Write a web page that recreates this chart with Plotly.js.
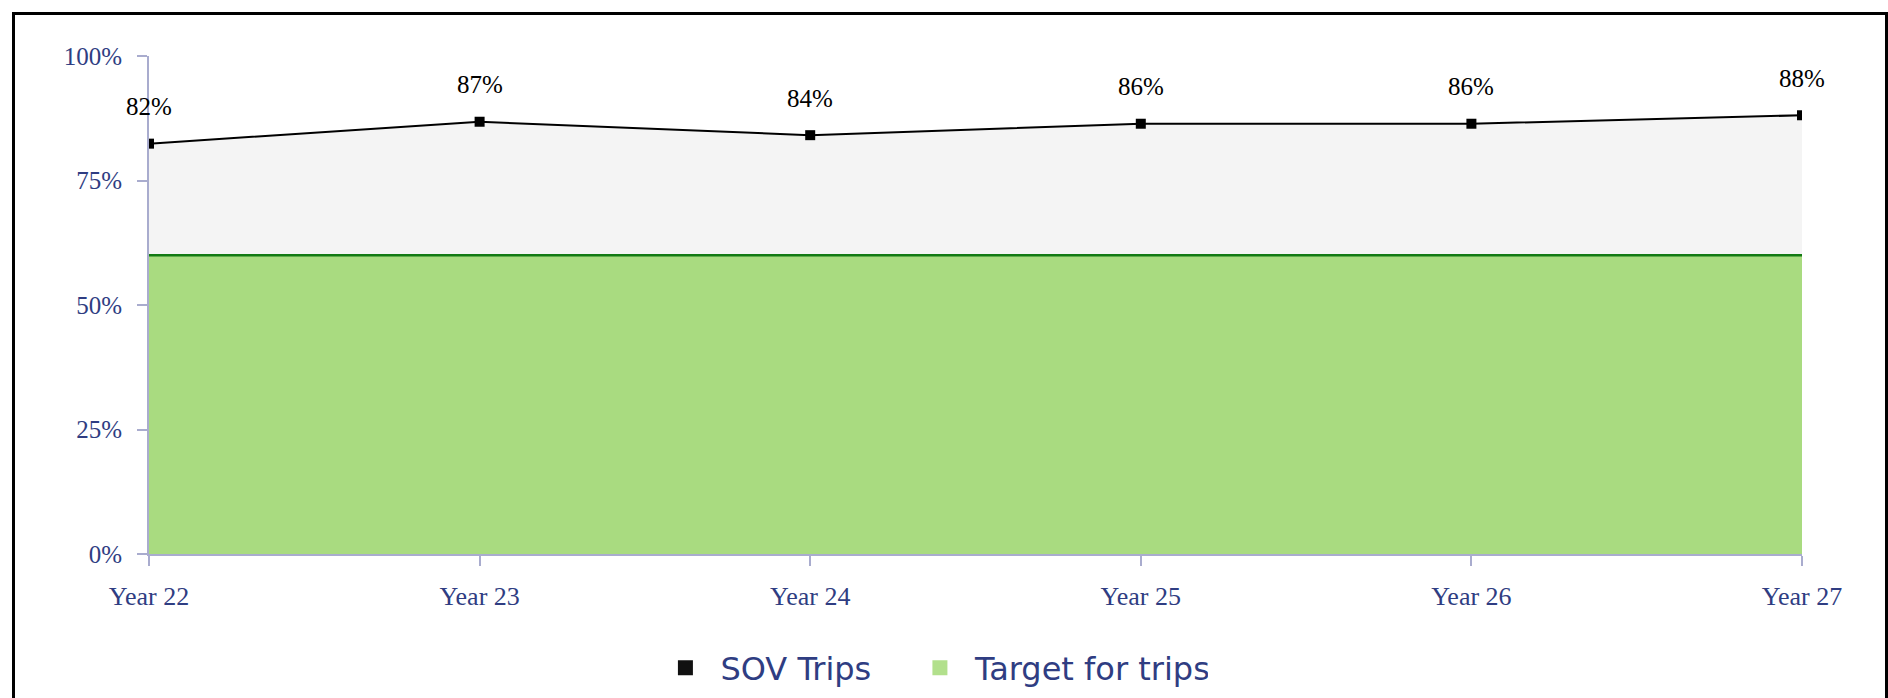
<!DOCTYPE html>
<html>
<head>
<meta charset="utf-8">
<script src="https://cdn.plot.ly/plotly-3.0.1.min.js"></script>
<style>
  html, body { margin: 0; padding: 0; background: #ffffff; overflow: hidden; }
  #wrap { position: relative; width: 1888px; height: 698px; }
  #chart { position: absolute; left: 0; top: 0; width: 1888px; height: 698px; }
  #frame { position: absolute; left: 12px; top: 12px; width: 1870px; height: 800px;
           border: 3px solid #000; pointer-events: none; }
</style>
</head>
<body>
<div id="wrap">
  <div id="chart"></div>
  <div id="frame"></div>
</div>
<script>
// ---- data ----
const years = ["Year 22", "Year 23", "Year 24", "Year 25", "Year 26", "Year 27"];
const sovTrips = [82.4, 86.8, 84.1, 86.4, 86.4, 88.1];
const sovLabels = ["82%", "87%", "84%", "86%", "86%", "88%"];
const target = [60, 60, 60, 60, 60, 60];
const yTicks = [0, 25, 50, 75, 100];
const yTickLabels = ["0%", "25%", "50%", "75%", "100%"];
const seriesNames = ["SOV Trips", "Target for trips"];

const navy = "#2f3d82";
const axisCol = "#a9acce";
const serif = "Liberation Serif, Times New Roman, serif";
const legendFont = { family: "DejaVu Sans, sans-serif", size: 32, color: navy };

const traces = [
  {
    x: years, y: sovTrips, type: "scatter", mode: "lines+markers",
    fill: "tozeroy", fillcolor: "#f4f4f4",
    line: { color: "#000000", width: 2 },
    marker: { symbol: "square", size: 10, color: "#000000" },
    showlegend: false, hoverinfo: "skip"
  },
  {
    x: years, y: target, type: "scatter", mode: "lines",
    fill: "tozeroy", fillcolor: "#a9db80",
    line: { color: "#137a13", width: 2.5 },
    showlegend: false, hoverinfo: "skip"
  },
  {
    x: [null], y: [null], type: "scatter", mode: "markers", name: seriesNames[0],
    marker: { symbol: "square", size: 15, color: "#111111" },
    showlegend: true, legend: "legend"
  },
  {
    x: [null], y: [null], type: "scatter", mode: "markers", name: seriesNames[1],
    marker: { symbol: "square", size: 15, color: "#b2e08c" },
    showlegend: true, legend: "legend2"
  }
];

const annotations = years.map((yr, i) => ({
  x: yr, y: sovTrips[i], xref: "x", yref: "y",
  text: sovLabels[i], showarrow: false,
  yanchor: "middle", xanchor: "center", yshift: 37,
  font: { family: serif, size: 25, color: "#000000" }
}));

const layout = {
  width: 1888, height: 698,
  margin: { l: 149, r: 86, t: 56, b: 144, pad: 0, autoexpand: false },
  paper_bgcolor: "rgba(0,0,0,0)",
  plot_bgcolor: "#ffffff",
  showlegend: true,
  legend: {
    orientation: "h", xref: "container", yref: "container",
    x: 0.3445, xanchor: "left", y: 0.043, yanchor: "middle",
    font: legendFont, bgcolor: "rgba(0,0,0,0)", itemwidth: 60
  },
  legend2: {
    orientation: "h", xref: "container", yref: "container",
    x: 0.4793, xanchor: "left", y: 0.043, yanchor: "middle",
    font: legendFont, bgcolor: "rgba(0,0,0,0)", itemwidth: 60, entrywidth: 228
  },
  xaxis: {
    type: "category", range: [0, 5],
    showgrid: false, zeroline: false,
    showline: true, linecolor: axisCol, linewidth: 2,
    ticks: "outside", ticklen: 10, tickwidth: 2, tickcolor: axisCol,
    tickfont: { family: serif, size: 26, color: navy },
    ticklabelstandoff: 8
  },
  yaxis: {
    range: [0, 100], tickmode: "array", tickvals: yTicks, ticktext: yTickLabels,
    showgrid: true, gridcolor: "#dcdcdc", gridwidth: 2,
    zeroline: false,
    showline: true, linecolor: axisCol, linewidth: 2,
    ticks: "outside", ticklen: 10, tickwidth: 2, tickcolor: axisCol,
    tickfont: { family: serif, size: 25, color: navy },
    ticklabelstandoff: 10
  },
  annotations: annotations
};

Plotly.newPlot("chart", traces, layout, { displayModeBar: false, staticPlot: true });
</script>
</body>
</html>
